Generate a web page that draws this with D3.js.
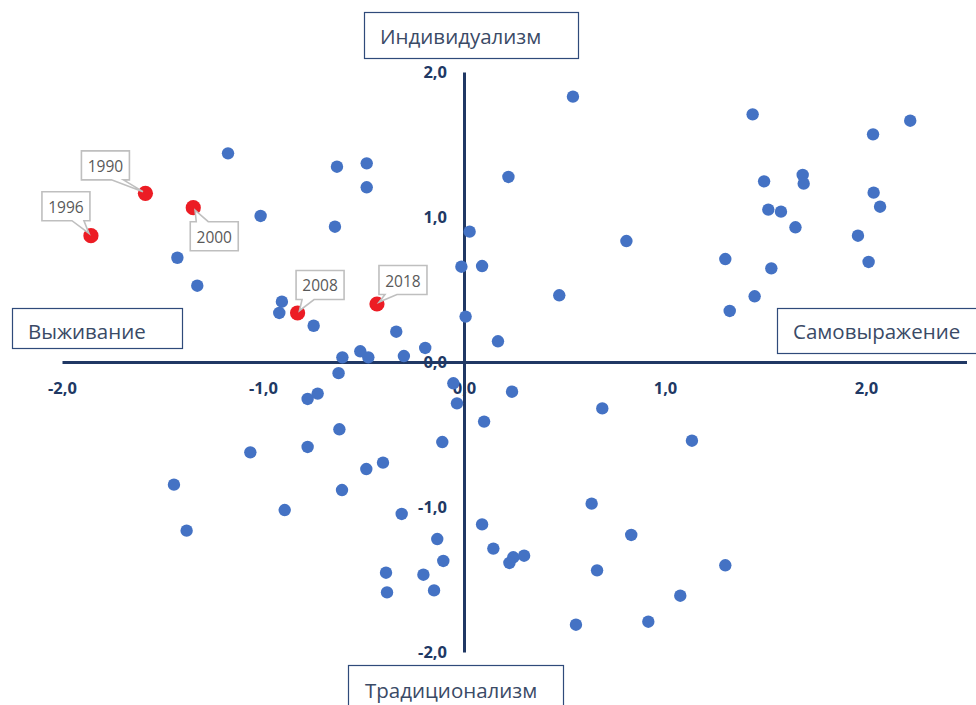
<!DOCTYPE html>
<html>
<head>
<meta charset="utf-8">
<script src="https://cdn.jsdelivr.net/npm/d3@7"></script>
<style>
  html, body { margin: 0; padding: 0; background: #ffffff; }
  svg { display: block; }
</style>
</head>
<body>
<div id="chart"></div>
<script>
// ---------------- data ----------------
const blueX = [
  -1.174, -0.632, -0.484, -0.484, -1.012, -0.642, -1.426, -1.327, 0.028, -0.013,
  0.090, -0.906, -0.919, -0.748, -0.337, 0.008, -0.193, -0.605, -0.516, -0.476,
  -0.299, -0.624, -0.053, -0.035, -0.778, -0.728, -0.620, -0.778, -1.063, -0.403,
  -0.486, -0.108, -1.443, -0.607, -0.892, -0.310, -1.380, -0.133, -0.103, -0.388,
  -0.202, -0.383, -0.149,
  0.542, 1.436, 2.220, 2.035, 0.221, 1.685, 1.690, 1.493, 2.038, 2.070,
  1.514, 1.577, 1.649, 1.960, 0.808, 1.300, 2.013, 1.529, 0.474, 1.446,
  1.322, 0.169, 0.239, 0.688, 0.100, 1.134, 0.635, 0.090, 0.832, 0.146,
  0.245, 0.226, 0.299, 0.662, 1.300, 1.076, 0.917, 0.557
];
const blueY = [
  1.439, 1.347, 1.370, 1.205, 1.007, 0.933, 0.719, 0.526, 0.899, 0.657,
  0.662, 0.416, 0.338, 0.250, 0.209, 0.313, 0.097, 0.032, 0.074, 0.032,
  0.041, -0.077, -0.147, -0.285, -0.255, -0.218, -0.464, -0.586, -0.623, -0.694,
  -0.738, -0.552, -0.846, -0.883, -1.021, -1.048, -1.163, -1.221, -1.372, -1.453,
  -1.467, -1.589, -1.575,
  1.830, 1.708, 1.664, 1.570, 1.276, 1.290, 1.230, 1.246, 1.168, 1.071,
  1.051, 1.037, 0.929, 0.871, 0.834, 0.710, 0.690, 0.646, 0.460, 0.453,
  0.352, 0.143, -0.205, -0.320, -0.411, -0.543, -0.977, -1.120, -1.193, -1.287,
  -1.347, -1.386, -1.336, -1.437, -1.402, -1.612, -1.791, -1.812
];
const redLabels = ["1990", "1996", "2000", "2008", "2018"];
const redX = [-1.585, -1.856, -1.347, -0.828, -0.433];
const redY = [1.163, 0.871, 1.064, 0.338, 0.400];

const xTicks = [-2, -1, 0, 1, 2];
const xTickLabels = ["-2,0", "-1,0", "0,0", "1,0", "2,0"];
const yTicks = [-2, -1, 0, 1, 2];
const yTickLabels = ["-2,0", "-1,0", "0,0", "1,0", "2,0"];

const poleLabels = ["Индивидуализм", "Выживание", "Самовыражение", "Традиционализм"];

// ---------------- layout ----------------
const W = 976, H = 705;
const NAVY = "#203864";
const FONT = "'Open Sans', 'Noto Sans', 'DejaVu Sans', sans-serif";

const svg = d3.select("#chart").append("svg")
  .attr("width", W).attr("height", H)
  .attr("viewBox", `0 0 ${W} ${H}`);

const x = d3.scaleLinear().domain([-2, 2.5]).range([62, 966.5]);
const y = d3.scaleLinear().domain([-2, 2]).range([652, 72]);

// axes crossing at origin
const xAxis = d3.axisBottom(x).tickValues(xTicks)
  .tickFormat((d, i) => xTickLabels[i]).tickSize(0).tickSizeOuter(0).tickPadding(20);
const yAxis = d3.axisLeft(y).tickValues(yTicks)
  .tickFormat((d, i) => yTickLabels[i]).tickSize(0).tickSizeOuter(0).tickPadding(17);

const gx = svg.append("g").attr("transform", `translate(0,${y(0)})`).call(xAxis);
const gy = svg.append("g").attr("transform", `translate(${x(0)},0)`).call(yAxis);

[gx, gy].forEach(g => {
  g.select(".domain").attr("stroke", NAVY).attr("stroke-width", 3);
  g.selectAll("text")
    .attr("fill", NAVY)
    .style("font-family", FONT)
    .style("font-size", "16.5px")
    .style("font-weight", "700");
});

// pole label boxes
const poleBoxes = [
  { x0: 364, y0: 12, x1: 578, y1: 58, tx: 380, ty: 36 },
  { x0: 12, y0: 308, x1: 182, y1: 348, tx: 28, ty: 331 },
  { x0: 777, y0: 308, x1: 990, y1: 353, tx: 793, ty: 331 },
  { x0: 348, y0: 665, x1: 563, y1: 720, tx: 365, ty: 690 }
];
const pg = svg.append("g");
poleBoxes.forEach((b, i) => {
  pg.append("rect")
    .attr("x", b.x0 + 0.5).attr("y", b.y0 + 0.5)
    .attr("width", b.x1 - b.x0).attr("height", b.y1 - b.y0)
    .attr("fill", "#ffffff").attr("stroke", "#2F4A7A").attr("stroke-width", 1.2);
  pg.append("text")
    .attr("x", b.tx).attr("y", b.ty)
    .attr("dominant-baseline", "central")
    .attr("fill", "#3A4A66")
    .style("font-family", FONT)
    .style("font-size", "20.5px")
    .text(poleLabels[i]);
});

// blue points
const blue = blueX.map((v, i) => ({ x: v, y: blueY[i] }));
svg.append("g").selectAll("circle").data(blue).join("circle")
  .attr("cx", d => x(d.x)).attr("cy", d => y(d.y))
  .attr("r", 6.2).attr("fill", "#4472C4");

// red points
const red = redX.map((v, i) => ({ x: v, y: redY[i], label: redLabels[i] }));
svg.append("g").selectAll("circle").data(red).join("circle")
  .attr("cx", d => x(d.x)).attr("cy", d => y(d.y))
  .attr("r", 7.6).attr("fill", "#EC1C24");

// callouts (box offsets relative to the point)
const calloutOffsets = [
  { dx: -40, dy: -28 },
  { dx: -25, dy: -29.5 },
  { dx: 21, dy: 28.5 },
  { dx: 22.5, dy: -28 },
  { dx: 26, dy: -24 }
];
const BW = 48, BH = 29;
const cg = svg.append("g");
red.forEach((d, i) => {
  const px = x(d.x), py = y(d.y);
  const cx = px + calloutOffsets[i].dx, cy = py + calloutOffsets[i].dy;
  const x0 = cx - BW / 2, x1 = cx + BW / 2, y0 = cy - BH / 2, y1 = cy + BH / 2;
  const bc = Math.max(x0 + 12, Math.min(x1 - 12, px));
  const bl = bc - 6, br = bc + 6;
  const below = py > cy;
  const vx = cx - px, vy = cy - py, len = Math.hypot(vx, vy);
  const tx = px + vx / len * 3, ty = py + vy / len * 3;
  let p;
  if (below) {
    p = `M${x0},${y0}H${x1}V${y1}H${br}L${tx},${ty}L${bl},${y1}H${x0}Z`;
  } else {
    p = `M${x0},${y0}H${bl}L${tx},${ty}L${br},${y0}H${x1}V${y1}H${x0}Z`;
  }
  cg.append("path").attr("d", p)
    .attr("fill", "#ffffff").attr("stroke", "#BFBFBF").attr("stroke-width", 1.6)
    .attr("stroke-linejoin", "miter");
  cg.append("text")
    .attr("x", cx).attr("y", cy + 0.5)
    .attr("text-anchor", "middle").attr("dominant-baseline", "central")
    .attr("fill", "#595959")
    .style("font-family", FONT).style("font-size", "15.5px")
    .text(d.label);
});
</script>
</body>
</html>
